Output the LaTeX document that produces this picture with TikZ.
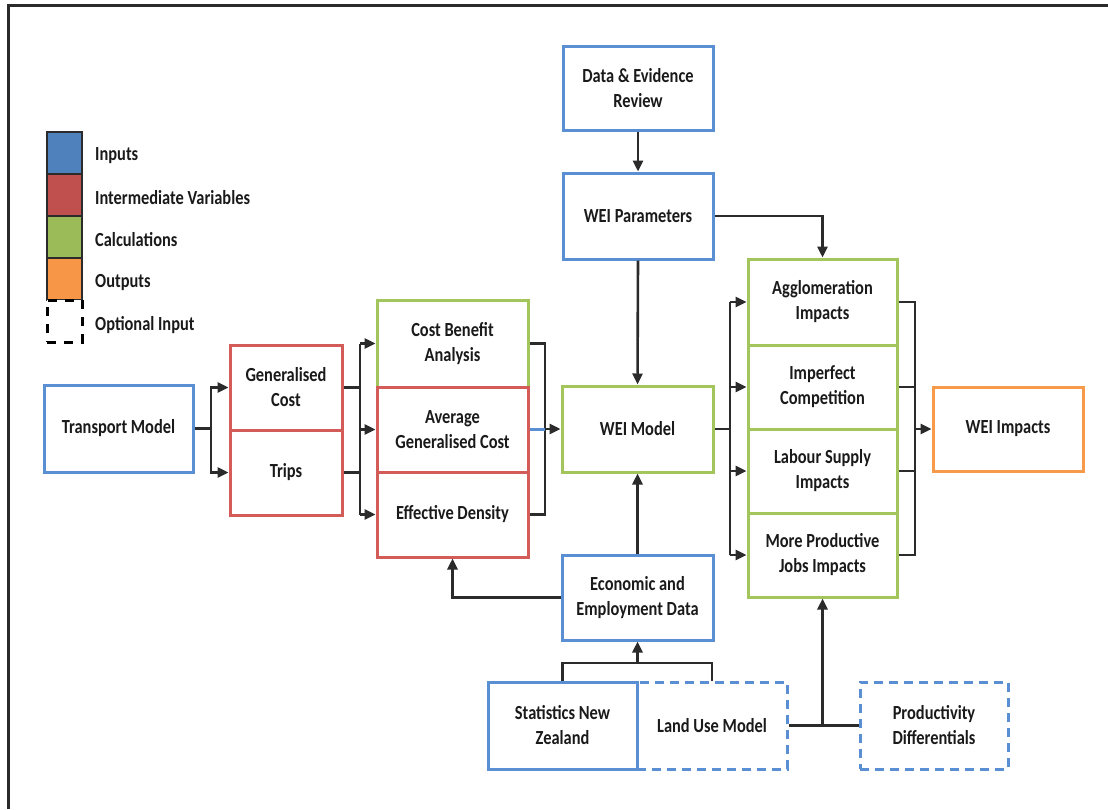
\documentclass[tikz,border=0pt]{standalone}
\usepackage{fontspec}
\setmainfont{Carlito}[FakeStretch=0.82]
\usetikzlibrary{arrows.meta}
\definecolor{bblue}{HTML}{5B8FD3}
\definecolor{bred}{HTML}{D35B58}
\definecolor{bgreen}{HTML}{A2C65C}
\definecolor{borange}{HTML}{F79A4A}
\definecolor{fblue}{HTML}{4F81BD}
\definecolor{fred}{HTML}{C0504D}
\definecolor{fgreen}{HTML}{9BBB59}
\definecolor{forange}{HTML}{F79646}
\definecolor{lin}{HTML}{2B2B2B}
\definecolor{txt}{HTML}{1A1A1A}
\tikzset{
  box/.style={draw, line width=3pt, inner sep=0pt, align=center, text=txt, fill=white},
  bluebox/.style={box, draw=bblue},
  redbox/.style={box, draw=bred},
  greenbox/.style={box, draw=bgreen},
  orangebox/.style={box, draw=borange},
  optbox/.style={box, draw=bblue, dash pattern=on 9pt off 6pt},
  conn/.style={line width=2.6pt, draw=lin},
  arr/.style={conn, -{Triangle[length=11pt,width=10pt]}},
  legsq/.style={draw=lin, line width=2pt, inner sep=0pt, minimum width=35pt, minimum height=42pt},
  leglab/.style={anchor=west, inner sep=0pt, text=txt},
  frame/.style={line width=3pt, draw=lin}
}
\begin{document}
\begin{tikzpicture}[x=1pt,y=-1pt,font=\fontsize{20}{25}\selectfont\bfseries]
\useasboundingbox (0,0) rectangle (1108,809);
% frame
\coordinate (ftl) at (8.5,5.5);
\coordinate (ftr) at (1108,5.5);
\coordinate (fbl) at (8.5,809);
\draw[frame] (ftr) -- (ftl) -- (fbl);

% legend
\node[legsq, fill=fblue] (l1) at (64.5,153) {};
\node[legsq, fill=fred] (l2) at (64.5,195) {};
\node[legsq, fill=fgreen] (l3) at (64.5,237) {};
\node[legsq, fill=forange] (l4) at (64.5,279) {};
\node[legsq, draw=black, fill=white, line width=3pt, dash pattern=on 9pt off 8pt] (l5) at (64.5,321) {};
\node[leglab] (t1) at (95,156) {Inputs};
\node[leglab] (t2) at (95,198) {Intermediate Variables};
\node[leglab] (t3) at (95,240) {Calculations};
\node[leglab] (t4) at (95,283) {Outputs};
\node[leglab] (t5) at (95,325) {Optional Input};

% boxes
\node[bluebox, minimum width=150pt, minimum height=84pt] (dataev) at (638,88) {Data \& Evidence\\Review};
\node[bluebox, minimum width=150pt, minimum height=86pt] (weiparam) at (638,216) {WEI Parameters};
\node[greenbox, minimum width=151pt, minimum height=86pt] (weimodel) at (637.5,429) {WEI Model};
\node[bluebox, minimum width=151pt, minimum height=85pt] (econ) at (637.5,597.5) {Economic and\\Employment Data};
\node[optbox, minimum width=150pt, minimum height=87pt] (landuse) at (712,725.5) {Land Use Model};
\node[bluebox, minimum width=149pt, minimum height=87pt] (stats) at (562.5,725.5) {Statistics New\\Zealand};
\node[optbox, minimum width=148pt, minimum height=87pt] (prod) at (934,725.5) {Productivity\\Differentials};
\node[bluebox, minimum width=149pt, minimum height=87pt] (transport) at (118.5,428.5) {Transport Model};
\node[redbox, minimum width=112pt, minimum height=85pt] (gencost) at (286,387.5) {Generalised\\Cost};
\node[redbox, minimum width=112pt, minimum height=85pt] (trips) at (286,472.5) {Trips};
\node[greenbox, minimum width=151pt, minimum height=87pt] (cba) at (452.5,343.5) {Cost Benefit\\Analysis};
\node[redbox, minimum width=151pt, minimum height=85pt] (agc) at (452.5,429.5) {Average\\Generalised Cost};
\node[redbox, minimum width=151pt, minimum height=85pt] (ed) at (452.5,514.5) {Effective Density};
\node[greenbox, minimum width=149pt, minimum height=86pt] (agg) at (822.5,302) {Agglomeration\\Impacts};
\node[greenbox, minimum width=149pt, minimum height=84pt] (imp) at (822.5,387) {Imperfect\\Competition};
\node[greenbox, minimum width=149pt, minimum height=84pt] (lab) at (822.5,471) {Labour Supply\\Impacts};
\node[greenbox, minimum width=149pt, minimum height=84pt] (mpj) at (822.5,555) {More Productive\\Jobs Impacts};
\node[orangebox, minimum width=150pt, minimum height=84pt] (weiimp) at (1008,429) {WEI Impacts};

% transport -> gencost / trips
\coordinate (v1) at (211,428.5);
\draw[conn] (transport.east) -- (v1);
\draw[arr] (v1) |- (gencost.west);
\draw[arr] (v1) |- (trips.west);

% gencost/trips -> cba, agc, ed
\coordinate (v2) at (360,0);
\draw[conn] (gencost.east) -- (gencost.east -| v2);
\draw[conn] (trips.east) -- (trips.east -| v2);
\draw[conn] (cba.west -| v2) -- (ed.west -| v2);
\draw[arr] (cba.west -| v2) -- (cba.west);
\draw[arr] (agc.west -| v2) -- (agc.west);
\draw[arr] (ed.west -| v2) -- (ed.west);

% cba/agc/ed -> wei model
\coordinate (v3) at (545,0);
\draw[conn] (cba.east) -- (cba.east -| v3) -- (ed.east -| v3) -- (ed.east);
\draw[line width=2.6pt, draw=bblue] (agc.east) -- (agc.east -| v3);
\draw[arr] (weimodel.west -| v3) -- (weimodel.west);

% top chain
\draw[arr] (dataev.south) -- (weiparam.north);
\draw[arr] (weiparam.south) -- (weimodel.north);
\draw[arr] (weiparam.east) -| (agg.north);

% wei model -> impacts
\coordinate (v4) at (730,0);
\draw[conn] (weimodel.east) -- (weimodel.east -| v4);
\draw[conn] (agg.west -| v4) -- (mpj.west -| v4);
\draw[arr] (agg.west -| v4) -- (agg.west);
\draw[arr] (imp.west -| v4) -- (imp.west);
\draw[arr] (lab.west -| v4) -- (lab.west);
\draw[arr] (mpj.west -| v4) -- (mpj.west);

% impacts -> wei impacts
\coordinate (v5) at (915,0);
\draw[conn] (agg.east) -- (agg.east -| v5) -- (mpj.east -| v5) -- (mpj.east);
\draw[conn] (imp.east) -- (imp.east -| v5);
\draw[conn] (lab.east) -- (lab.east -| v5);
\draw[arr] (weiimp.west -| v5) -- (weiimp.west);

% economic data
\draw[arr] (econ.north) -- (weimodel.south);
\draw[arr] (econ.west) -| (ed.south);

% bottom inputs
\coordinate (jb) at (637.5,663);
\draw[conn] (stats.north) |- (jb) -| (landuse.north);
\draw[arr] (jb) -- (econ.south);
\draw[conn] (landuse.east) -- (prod.west);
\draw[arr] (landuse.east -| mpj.south) -- (mpj.south);
\end{tikzpicture}
\end{document}
